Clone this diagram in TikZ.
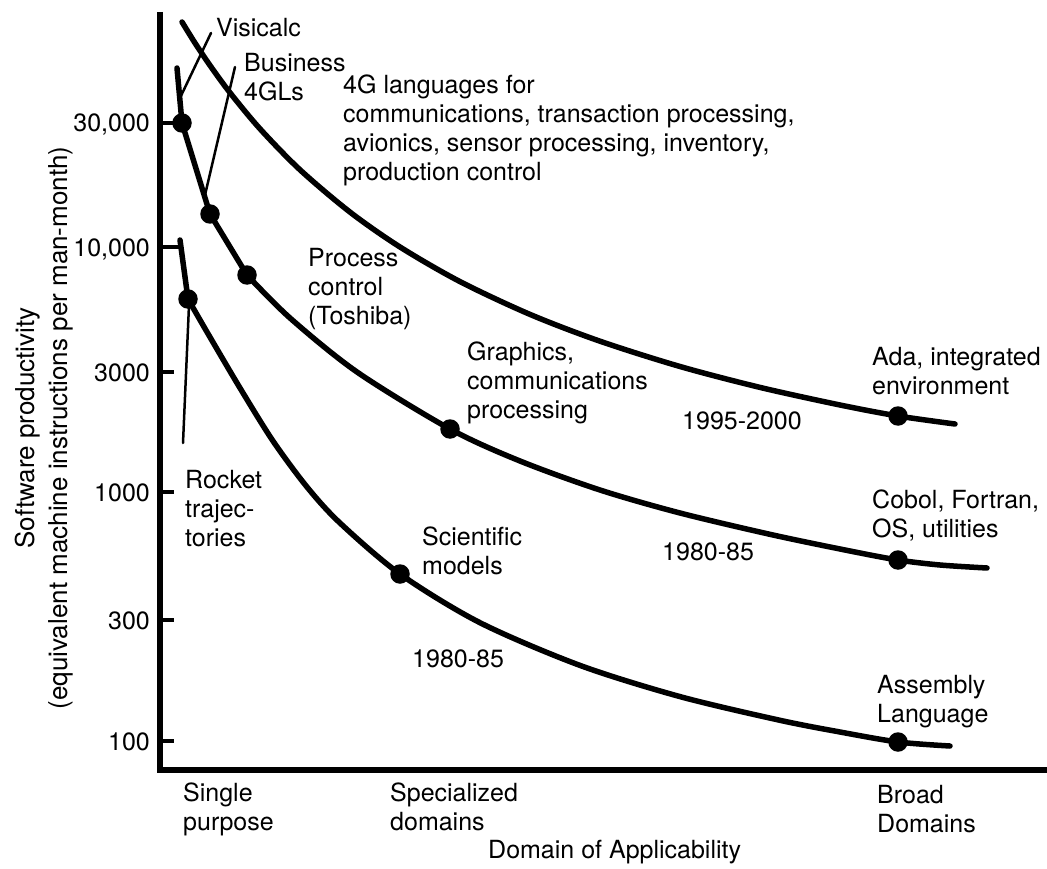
\documentclass[tikz,border=0pt]{standalone}
\usepackage{fontspec}
\setmainfont{TeX Gyre Heros}
\begin{document}
\begin{tikzpicture}[x=1pt,y=-1pt,
  lbl/.style={anchor=north west, inner sep=0pt, align=left, font=\fontsize{25}{29}\selectfont},
  ticklbl/.style={anchor=base east, inner sep=0pt, font=\fontsize{25}{29}\selectfont},
  curve/.style={line width=5.5pt, line cap=round, line join=round},
  axisline/.style={line width=6pt},
  tickline/.style={line width=3.5pt},
  pointer/.style={line width=2.5pt, line cap=round},
  dotmark/.style={circle, fill=black, inner sep=0pt, minimum size=19.5pt}
]
\path[use as bounding box] (0,0) rectangle (1047,869);

% axes
\coordinate (otop) at (160,12);
\coordinate (orig) at (160,770);
\coordinate (xend) at (1047,770);
\draw[axisline] (otop) -- (orig) -- (xend);

% tick marks and labels
\foreach \y/\t/\n in {372/3000/a, 492/1000/b, 620/300/c, 741/100/d} {
  \coordinate (tk\n) at (160,\y);
  \coordinate (te\n) at (174,\y);
  \draw[tickline] (tk\n) -- (te\n);
  \node[ticklbl] (tl\n) at (150,\y+9) {\t};
}
\node[ticklbl] (tl30k) at (150,132) {30,000};
\node[ticklbl] (tl10k) at (150,256) {10,000};

% dots positions
\coordinate (m1) at (182,123);
\coordinate (m2) at (210,214);
\coordinate (m3) at (247,275);
\coordinate (m4) at (450,429);
\coordinate (m5) at (898,560);
\coordinate (t1) at (898,416);
\coordinate (b1) at (188,299);
\coordinate (b2) at (400,574);
\coordinate (b3) at (898,742);

% tick links to curves
\coordinate (k30) at (160,123);
\coordinate (k10) at (160,247);
\coordinate (k10e) at (180,247);
\draw[tickline] (k30) -- (m1);
\draw[tickline] (k10) -- (k10e);

% top curve (4G languages)
\draw[curve] plot[smooth] coordinates {(182,22) (195,43) (210,65.4) (230,92.7) (260,128.8) (300,169.8) (350,212.1) (400,247) (460,281.6) (530,314.4) (600,341.2) (680,366.5) (760,387.4) (840,405) (898,416) (955,424)};

% middle curve
\coordinate (mstart) at (177,68);
\draw[curve] (mstart) -- (m1) -- (m2) -- (m3);
\draw[curve] plot[smooth] coordinates {(247,275) (290,318) (357,372) (450,429) (520,461) (600,490) (680,513) (773,535) (850,551) (898,560) (940,565) (987,568)};

% bottom curve
\coordinate (bstart) at (180,240);
\draw[curve] (bstart) -- (b1);
\draw[curve] plot[smooth] coordinates {(188,299) (207,332) (240,388) (273,441) (307,487) (340,523) (400,574) (480,622.7) (580,665.4) (680,696.6) (780,720.3) (840,732) (898,742) (950,746)};

% dots
\foreach \p in {m1,m2,m3,m4,m5,t1,b1,b2,b3} {
  \node[dotmark] (d\p) at (\p) {};
}

% pointer lines
\coordinate (vis1) at (211,33);
\coordinate (vis2) at (179,100);
\draw[pointer] (vis1) -- (vis2);
\coordinate (bus1) at (235,67);
\coordinate (bus2) at (205,195);
\draw[pointer] (bus1) -- (bus2);
\coordinate (roc1) at (189,305);
\coordinate (roc2) at (183,443);
\draw[pointer] (roc1) -- (roc2);

% labels
\node[lbl] (visicalc) at (216,18) {Visicalc};
\node[lbl] (business) at (244,53) {Business\\4GLs};
\node[lbl] (fourg) at (343,75) {4G languages for\\communications, transaction processing,\\avionics, sensor processing, inventory,\\production control};
\node[lbl] (process) at (308,248) {Process\\control\\(Toshiba)};
\node[lbl] (graphics) at (467,342) {Graphics,\\communications\\processing};
\node[lbl] (yr9500) at (682,412) {1995-2000};
\node[lbl] (ada) at (872,347) {Ada, integrated\\environment};
\node[lbl] (cobol) at (872,490) {Cobol, Fortran,\\OS, utilities};
\node[lbl] (yr8085a) at (662,543) {1980-85};
\node[lbl] (sci) at (422,527) {Scientific\\models};
\node[lbl] (yr8085b) at (412,650) {1980-85};
\node[lbl] (asm) at (877,675) {Assembly\\Language};
\node[lbl] (rocket) at (185,470) {Rocket\\trajec-\\tories};
\node[lbl] (single) at (183,783) {Single\\purpose};
\node[lbl] (special) at (390,783) {Specialized\\domains};
\node[lbl] (broad) at (877,785) {Broad\\Domains};
\node[lbl] (domain) at (488,840) {Domain of Applicability};

% y-axis title
\node[rotate=90, align=center, inner sep=0pt, font=\fontsize{26}{33}\selectfont] (ytitle) at (44,428) {Software productivity\\(equivalent machine instructions per man-month)};
\end{tikzpicture}
\end{document}
